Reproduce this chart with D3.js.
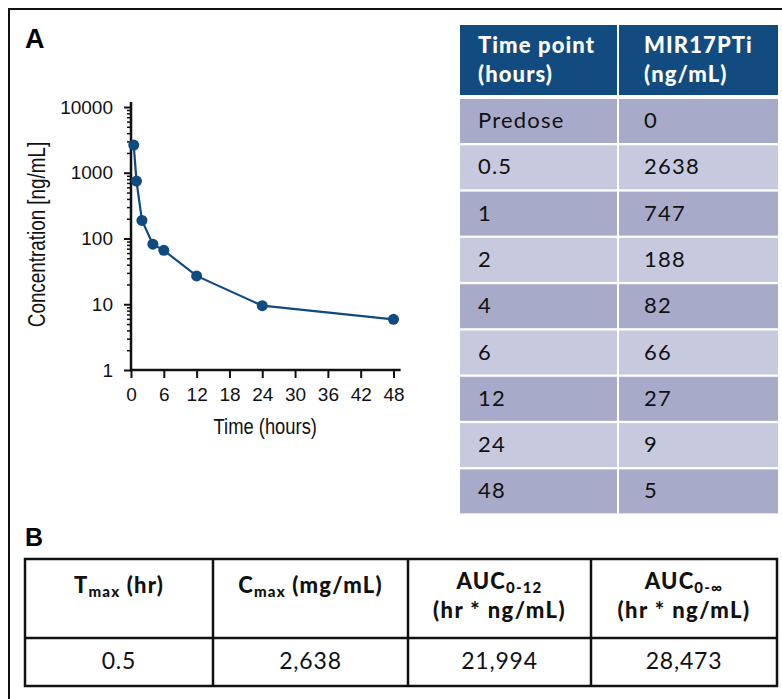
<!DOCTYPE html>
<html><head><meta charset="utf-8">
<script src="https://cdn.jsdelivr.net/npm/d3@7"></script>
<style>body{margin:0;background:#fff}svg{display:block}</style>
</head><body>
<svg id="c" width="782" height="699"></svg>
<script>
// ---- data ----
const timeLabels = ["Predose","0.5","1","2","4","6","12","24","48"];
const concLabels = ["0","2638","747","188","82","66","27","9","5"];
const plotTimes = [0.5, 1, 2, 4, 6, 12, 24, 48];
const plotConc = [2638, 747, 188, 82, 66, 27, 9.5, 5.9];
const xTicks = [0, 6, 12, 18, 24, 30, 36, 42, 48];
const yTicks = [1, 10, 100, 1000, 10000];
const tableHeaders = [["Time point","(hours)"],["MIR17PTi","(ng/mL)"]];
const pkHeaders = [
  {main:"T", sub:"max", rest:" (hr)", line2:""},
  {main:"C", sub:"max", rest:" (mg/mL)", line2:""},
  {main:"AUC", sub:"0-12", rest:"", line2:"(hr * ng/mL)"},
  {main:"AUC", sub:"0-\u221E", rest:"", line2:"(hr * ng/mL)"}
];
const pkValues = ["0.5","2,638","21,994","28,473"];

const svg = d3.select("#c");
const BLUE = "#0f4a80";

// outer frame
svg.append("path").attr("d","M9,699 V9 H782").attr("fill","none").attr("stroke","#111").attr("stroke-width",2);

// panel letters
svg.append("text").attr("x",25).attr("y",48).text("A")
  .attr("font-family","Liberation Sans, Arial, sans-serif").attr("font-weight","bold").attr("font-size",27);
svg.append("text").attr("x",25).attr("y",546).text("B")
  .attr("font-family","Liberation Sans, Arial, sans-serif").attr("font-weight","bold").attr("font-size",25);

// ---- chart ----
const x = d3.scaleLinear().domain([0,48]).range([131,393.5]);
const y = d3.scaleLog().domain([1,10000]).range([370,107]);
const tickFont = "Liberation Sans, Arial, sans-serif";

// minor y ticks
const minor = y.ticks().filter(v => !yTicks.includes(v));
const gMinor = svg.append("g").attr("transform",`translate(${x(0)},0)`)
  .call(d3.axisLeft(y).tickValues(minor).tickSize(4).tickFormat(""));
gMinor.select(".domain").remove();
gMinor.selectAll("line").attr("stroke","#111").attr("stroke-width",1.5);

const gy = svg.append("g").attr("transform",`translate(${x(0)},0)`)
  .call(d3.axisLeft(y).tickValues(yTicks).tickSize(7).tickPadding(11).tickFormat(d3.format("d")));
gy.select(".domain").remove();
gy.selectAll("line").attr("stroke","#111").attr("stroke-width",2);
gy.selectAll("text").attr("font-family",tickFont).attr("font-size",19).attr("fill","#111");

const gx = svg.append("g").attr("transform",`translate(0,${y(1)})`)
  .call(d3.axisBottom(x).tickValues(xTicks).tickSize(8).tickPadding(10));
gx.select(".domain").remove();
gx.selectAll("line").attr("stroke","#111").attr("stroke-width",2);
gx.selectAll("text").attr("font-family",tickFont).attr("font-size",19).attr("fill","#111");

// axis lines
svg.append("line").attr("x1",x(0)).attr("x2",x(0)).attr("y1",y(1)+1).attr("y2",y(10000)-5)
  .attr("stroke","#111").attr("stroke-width",2.5);
svg.append("line").attr("x1",x(0)-1).attr("x2",x(49.3)).attr("y1",y(1)).attr("y2",y(1))
  .attr("stroke","#111").attr("stroke-width",2.5);

// axis titles (condensed via horizontal scale)
svg.append("text").attr("transform",`translate(45,${y(100)-4}) rotate(-90) scale(0.82,1)`)
  .attr("text-anchor","middle").attr("font-family",tickFont).attr("font-size",23).attr("fill","#111")
  .text("Concentration [ng/mL]");
svg.append("text").attr("transform",`translate(${x(24)+3},434) scale(0.835,1)`).attr("text-anchor","middle")
  .attr("font-family",tickFont).attr("font-size",22).attr("fill","#111").text("Time (hours)");

// series
const pts = plotTimes.map((t,i)=>({t, c:plotConc[i]}));
svg.append("path").datum(pts)
  .attr("d", d3.line().x(d=>x(d.t)).y(d=>y(d.c)))
  .attr("fill","none").attr("stroke",BLUE).attr("stroke-width",2.2);
svg.selectAll("circle.pt").data(pts).join("circle").attr("class","pt")
  .attr("cx",d=>x(d.t)).attr("cy",d=>y(d.c)).attr("r",5.5).attr("fill",BLUE);

// ---- right table ----
const tf = "Lato, 'Open Sans', sans-serif";
const colX = [460, 619], colW = [157, 159], padX = [18, 25];
const hdr = svg.append("g");
tableHeaders.forEach((h,j)=>{
  hdr.append("rect").attr("x",colX[j]).attr("y",25).attr("width",colW[j]).attr("height",70).attr("fill","#114b7f");
  h.forEach((line,k)=>{
    hdr.append("text").attr("x",colX[j]+padX[j]).attr("y",53+k*29).text(line)
      .attr("font-family",tf).attr("font-weight",900).attr("font-size",22).attr("fill","#fff")
      .attr("letter-spacing",1.1);
  });
});
const rowY = d3.scaleLinear().domain([0,1]).range([99,145.3]);
timeLabels.forEach((t,i)=>{
  const fill = i%2===0 ? "#a7abc9" : "#c7cadf";
  [t, concLabels[i]].forEach((txt,j)=>{
    svg.append("rect").attr("x",colX[j]).attr("y",rowY(i)).attr("width",colW[j]).attr("height",44).attr("fill",fill);
    svg.append("text").attr("x",colX[j]+padX[j]).attr("y",rowY(i)+29).text(txt)
      .attr("font-family",tf).attr("font-size",22).attr("fill","#111").attr("letter-spacing",1.2);
  });
});

// ---- bottom table ----
const bx = [25, 213, 408, 591, 777];
const bT = 559, bM = 638, bB = 686;
const bt = svg.append("g");
pkHeaders.forEach((h,j)=>{
  const cx = (bx[j]+bx[j+1])/2;
  const t = bt.append("text").attr("x",cx).attr("y", h.line2 ? 589 : 593).attr("text-anchor","middle")
    .attr("font-family",tf).attr("font-weight",900).attr("font-size",22).attr("fill","#111")
    .attr("letter-spacing",1.2);
  t.append("tspan").text(h.main);
  t.append("tspan").text(h.sub).attr("font-size",15).attr("dy",4);
  if (h.rest) t.append("tspan").text(h.rest).attr("dy",-4);
  if (h.line2) bt.append("text").attr("x",cx).attr("y",618).attr("text-anchor","middle")
    .attr("font-family",tf).attr("font-weight",900).attr("font-size",22).attr("fill","#111")
    .attr("letter-spacing",1.4).text(h.line2);
  bt.append("text").attr("x",cx).attr("y",669).attr("text-anchor","middle")
    .attr("font-family",tf).attr("font-size",23).attr("fill","#111").attr("letter-spacing",0.8).text(pkValues[j]);
});
bt.append("rect").attr("x",bx[0]).attr("y",bT).attr("width",bx[4]-bx[0]).attr("height",bB-bT)
  .attr("fill","none").attr("stroke","#111").attr("stroke-width",2.5);
bt.append("line").attr("x1",bx[0]).attr("x2",bx[4]).attr("y1",bM).attr("y2",bM).attr("stroke","#111").attr("stroke-width",2.5);
bx.slice(1,4).forEach(v=>bt.append("line").attr("x1",v).attr("x2",v).attr("y1",bT).attr("y2",bB).attr("stroke","#111").attr("stroke-width",2.5));
</script>
</body></html>
